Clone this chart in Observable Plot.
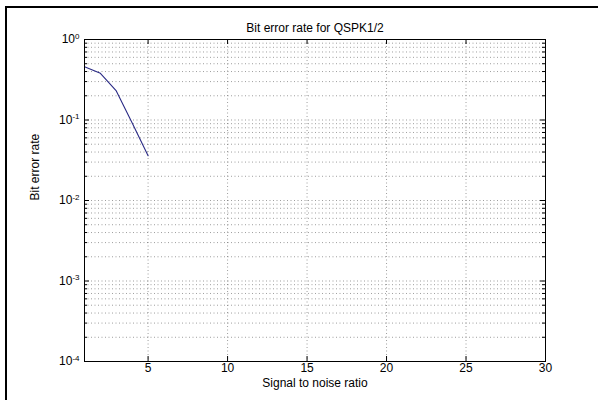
<!DOCTYPE html>
<html><head><meta charset="utf-8">
<script src="https://cdn.jsdelivr.net/npm/d3@7"></script>
<script src="https://cdn.jsdelivr.net/npm/@observablehq/plot@0.6"></script>
<style>
body{margin:0;background:#fff;}
#wrap{position:relative;width:598px;height:400px;overflow:hidden;}
#border{position:absolute;left:5px;top:6px;right:-10px;bottom:-10px;border-left:2px solid #000;border-top:2px solid #000;pointer-events:none;}
svg text{font-family:"Liberation Sans",Arial,sans-serif;}
</style>
</head><body>
<div id="wrap"><div id="border"></div></div>
<script>
const snr = [1, 2, 3, 4, 5];
const ber = [0.46, 0.38, 0.23, 0.092, 0.036];
const xTicks = [5, 10, 15, 20, 25, 30];
const xGrid = [5, 10, 15, 20, 25];
const yMajor = [1e-4, 1e-3, 1e-2, 1e-1, 1];
const title = "Bit error rate for QSPK1/2";
const xLabel = "Signal to noise ratio";
const yLabel = "Bit error rate";

const yMinor = [];
for (let k = -4; k < 0; k++) for (let m = 2; m <= 9; m++) yMinor.push(+(m * Math.pow(10, k)).toPrecision(3));
const yAllGrid = yMinor.concat(yMajor.slice(1, 4));
const data = snr.map((s, i) => ({snr: s, ber: ber[i]}));
const W = 598, ML = 84, MR = 53, PW = W - ML - MR;

const chart = Plot.plot({
  width: W, height: 400,
  marginLeft: ML, marginRight: MR, marginTop: 39, marginBottom: 39,
  style: {fontFamily: "Liberation Sans, Arial, sans-serif", fontSize: "12px", background: "transparent"},
  x: {domain: [1, 30], ticks: xTicks, label: null},
  y: {type: "log", domain: [1e-4, 1], ticks: yMajor, label: null},
  marks: [
    Plot.ruleY(yAllGrid, {y: d => d, stroke: "#444", strokeOpacity: 0.65, strokeDasharray: "1,2.5", strokeWidth: 0.8}),
    Plot.ruleX(xGrid, {x: d => d, stroke: "#444", strokeOpacity: 0.65, strokeDasharray: "1,2.5", strokeWidth: 0.8}),
    // inside ticks
    Plot.tickY(yMajor, {y: d => d, stroke: "#000", insetRight: PW - 5}),
    Plot.tickY(yMajor, {y: d => d, stroke: "#000", insetLeft: PW - 5}),
    Plot.tickY(yMinor, {y: d => d, stroke: "#000", insetRight: PW - 3}),
    Plot.tickY(yMinor, {y: d => d, stroke: "#000", insetLeft: PW - 3}),
    Plot.tickX(xTicks, {x: d => d, stroke: "#000", insetTop: 322 - 5}),
    Plot.tickX(xTicks, {x: d => d, stroke: "#000", insetBottom: 322 - 5}),
    Plot.axisX({ticks: xTicks, tickSize: 0, tickPadding: 2, fontSize: 12, label: null, fill: "#000"}),
    Plot.axisY({ticks: yMajor, tickSize: 0, tickPadding: 5, fontSize: 12, tickFormat: d => "10^" + Math.round(Math.log10(d)), label: null, fill: "#000"}),
    Plot.line(data, {x: "snr", y: "ber", stroke: "#2a2a85", strokeWidth: 1.1}),
    Plot.frame({stroke: "#000", strokeWidth: 1}),
    Plot.text([title], {text: d => d, frameAnchor: "top", dy: -16, fontSize: 12, fill: "#000"}),
    Plot.text([xLabel], {text: d => d, frameAnchor: "bottom", dy: 25, fontSize: 12, fill: "#000"}),
    Plot.text([yLabel], {text: d => d, frameAnchor: "left", dx: -49, rotate: -90, fontSize: 12, fill: "#000"})
  ]
});
// superscript exponents on y tick labels
d3.select(chart).selectAll('g[aria-label="y-axis tick label"] text').each(function() {
  const t = d3.select(this);
  const s = t.text();
  const parts = s.split("^");
  if (parts.length === 2) {
    t.text(null);
    t.append("tspan").text(parts[0]);
    t.append("tspan").attr("dy", "-0.55em").attr("font-size", "8px").text(parts[1]);
  }
});
document.getElementById("wrap").prepend(chart);
</script>
</body></html>
